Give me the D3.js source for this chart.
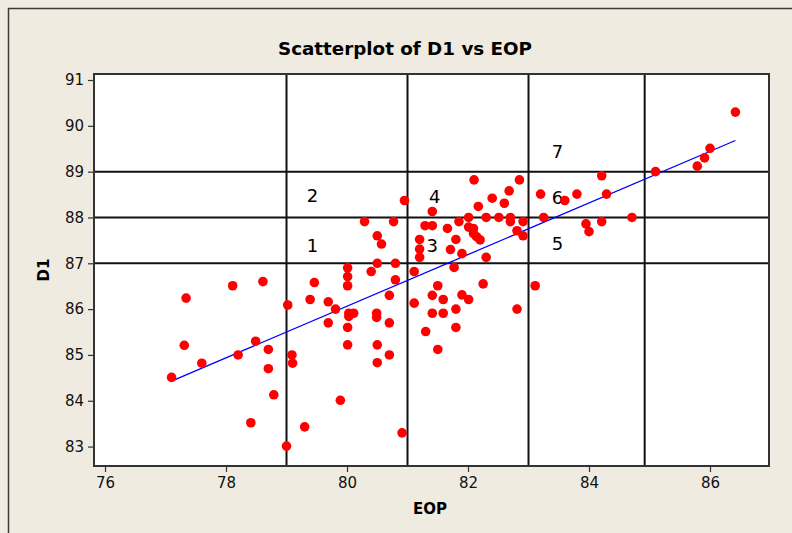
<!DOCTYPE html>
<html>
<head>
<meta charset="utf-8">
<script src="https://cdn.jsdelivr.net/npm/d3@7"></script>
<style>
  html, body { margin: 0; padding: 0; background: #EFEBE1; }
  svg { display: block; }
</style>
</head>
<body>
<svg id="chart" width="792" height="533"></svg>
<script>
// Observations: EOP (x) and D1 (y)
const eop = [
  77.10, 77.34, 77.31, 77.60, 78.11, 78.20, 78.61, 78.49, 78.70, 78.70,
  78.79, 78.41, 79.00, 79.02, 79.09, 79.10, 79.30, 79.39, 79.46, 79.69,
  79.69, 79.81, 79.89, 80.01, 80.01, 80.01, 80.03, 80.03, 80.11, 80.01,
  80.01, 80.49, 80.49, 80.70, 80.50, 80.50, 80.70, 80.70, 80.80, 80.91,
  81.11, 81.41, 81.50, 81.41, 81.59, 81.59, 81.90, 82.01, 81.80, 81.30,
  81.80, 81.50, 82.25, 82.81, 80.95, 80.29, 80.77, 80.50, 80.57, 80.50,
  80.40, 80.80, 81.11, 81.41, 81.29, 81.41, 81.20, 81.20, 81.20, 81.66,
  81.80, 81.71, 81.90, 82.30, 81.77, 81.85, 82.01, 82.01, 82.09, 82.09,
  82.14, 82.20, 82.10, 82.17, 82.30, 82.40, 82.51, 82.60, 82.68, 82.70,
  82.70, 82.85, 82.81, 82.91, 82.91, 83.20, 83.60, 83.80, 84.21, 84.29,
  83.25, 83.95, 84.00, 84.21, 84.71, 85.10, 85.79, 85.91, 86.00, 86.42,
  83.11
];
const d1 = [
  84.51, 86.24, 85.21, 84.82, 86.51, 85.00, 86.60, 85.30, 85.12, 84.70,
  84.13, 83.52, 83.01, 86.09, 85.00, 84.82, 83.43, 86.21, 86.58, 86.16,
  85.70, 86.00, 84.01, 86.90, 86.71, 86.51, 85.91, 85.84, 85.91, 85.60,
  85.22, 85.91, 85.82, 85.70, 85.22, 84.83, 85.00, 86.30, 86.64, 83.30,
  86.13, 86.30, 86.51, 85.91, 86.21, 85.91, 86.31, 86.21, 86.00, 85.51,
  85.60, 85.12, 86.55, 86.00, 88.37, 87.91, 87.91, 87.60, 87.42, 87.00,
  86.82, 87.00, 86.82, 88.13, 87.82, 87.82, 87.52, 87.31, 87.13, 87.76,
  87.52, 87.30, 87.21, 87.13, 86.91, 87.91, 88.00, 87.79, 87.76, 87.65,
  87.58, 87.51, 88.82, 88.24, 88.00, 88.42, 88.00, 88.31, 88.58, 88.00,
  87.91, 88.82, 87.71, 87.91, 87.60, 88.51, 88.37, 88.51, 88.91, 88.51,
  88.00, 87.86, 87.69, 87.91, 88.00, 89.00, 89.12, 89.30, 89.51, 90.30,
  86.51
];

// Least-squares fit line, drawn between the smallest and largest EOP
const fitEop = [77.10, 86.42];
const fitD1 = [84.43, 89.68];

// Reference lines splitting the plot into regions
const refEop = [79, 81, 83, 84.92];
const refD1 = [87, 88, 89];

// Region numbers
const regionText = ["1", "2", "3", "4", "5", "6", "7"];
const regionEop = [79.43, 79.43, 81.41, 81.45, 83.48, 83.48, 83.48];
const regionD1 = [87.38, 88.48, 87.38, 88.46, 87.43, 88.44, 89.43];

const xTicks = [76, 78, 80, 82, 84, 86];
const yTicks = [83, 84, 85, 86, 87, 88, 89, 90, 91];

const svg = d3.select("#chart");
const W = 792, H = 533;
const plot = { left: 94, top: 74, right: 769, bottom: 466 };

const x = d3.scaleLinear().domain([75.818, 86.975]).range([plot.left, plot.right]);
const y = d3.scaleLinear().domain([82.576, 91.131]).range([plot.bottom, plot.top]);

const font = "'DejaVu Sans', Verdana, sans-serif";

// Figure background and frame
svg.append("rect").attr("x", 0).attr("y", 0).attr("width", W).attr("height", H)
  .attr("fill", "#EFEBE1");
svg.append("rect").attr("x", 8.5).attr("y", 8.5).attr("width", W + 20).attr("height", H + 20)
  .attr("fill", "none").attr("stroke", "#3a3a3a").attr("stroke-width", 1.5);

// Plot area
svg.append("rect")
  .attr("x", plot.left).attr("y", plot.top)
  .attr("width", plot.right - plot.left).attr("height", plot.bottom - plot.top)
  .attr("fill", "#ffffff");

// Reference lines
const g = svg.append("g");
g.selectAll("line.vref").data(refEop).join("line")
  .attr("class", "vref")
  .attr("x1", d => x(d)).attr("x2", d => x(d))
  .attr("y1", plot.top).attr("y2", plot.bottom)
  .attr("stroke", "#111").attr("stroke-width", 2);
g.selectAll("line.href").data(refD1).join("line")
  .attr("class", "href")
  .attr("x1", plot.left).attr("x2", plot.right)
  .attr("y1", d => y(d)).attr("y2", d => y(d))
  .attr("stroke", "#111").attr("stroke-width", 2);

// Region numbers
g.selectAll("text.region").data(regionText).join("text")
  .attr("class", "region")
  .attr("x", (d, i) => x(regionEop[i]))
  .attr("y", (d, i) => y(regionD1[i]))
  .attr("text-anchor", "middle").attr("dominant-baseline", "central")
  .attr("font-family", font).attr("font-size", 18).attr("fill", "#000")
  .text(d => d);

// Fit line
svg.append("line")
  .attr("x1", x(fitEop[0])).attr("y1", y(fitD1[0]))
  .attr("x2", x(fitEop[1])).attr("y2", y(fitD1[1]))
  .attr("stroke", "#0000FF").attr("stroke-width", 1.3);

// Points
svg.append("g").selectAll("circle").data(eop).join("circle")
  .attr("cx", d => x(d))
  .attr("cy", (d, i) => y(d1[i]))
  .attr("r", 4.8)
  .attr("fill", "#FF0000");

// Plot border
svg.append("rect")
  .attr("x", plot.left).attr("y", plot.top)
  .attr("width", plot.right - plot.left).attr("height", plot.bottom - plot.top)
  .attr("fill", "none").attr("stroke", "#333").attr("stroke-width", 2);

// Axes
const xAxis = d3.axisBottom(x).tickValues(xTicks).tickSize(6).tickPadding(5).tickFormat(d3.format("d"));
const yAxis = d3.axisLeft(y).tickValues(yTicks).tickSize(6).tickPadding(4).tickFormat(d3.format("d"));

const gx = svg.append("g").attr("transform", `translate(0,${plot.bottom})`).call(xAxis);
const gy = svg.append("g").attr("transform", `translate(${plot.left},0)`).call(yAxis);
[gx, gy].forEach(a => {
  a.select(".domain").remove();
  a.selectAll(".tick line").attr("stroke", "#333").attr("stroke-width", 1.2);
  a.selectAll(".tick text").attr("font-family", font).attr("font-size", 15).attr("fill", "#111");
});

// Title and axis labels
svg.append("text")
  .attr("x", 405).attr("y", 55)
  .attr("text-anchor", "middle")
  .attr("font-family", font).attr("font-weight", "bold").attr("font-size", 18.3)
  .attr("fill", "#000")
  .text("Scatterplot of D1 vs EOP");

svg.append("text")
  .attr("x", 430).attr("y", 514)
  .attr("text-anchor", "middle")
  .attr("font-family", font).attr("font-weight", "bold").attr("font-size", 15)
  .attr("fill", "#000")
  .text("EOP");

svg.append("text")
  .attr("transform", "translate(49,270) rotate(-90)")
  .attr("text-anchor", "middle")
  .attr("font-family", font).attr("font-weight", "bold").attr("font-size", 15)
  .attr("fill", "#000")
  .text("D1");
</script>
</body>
</html>
